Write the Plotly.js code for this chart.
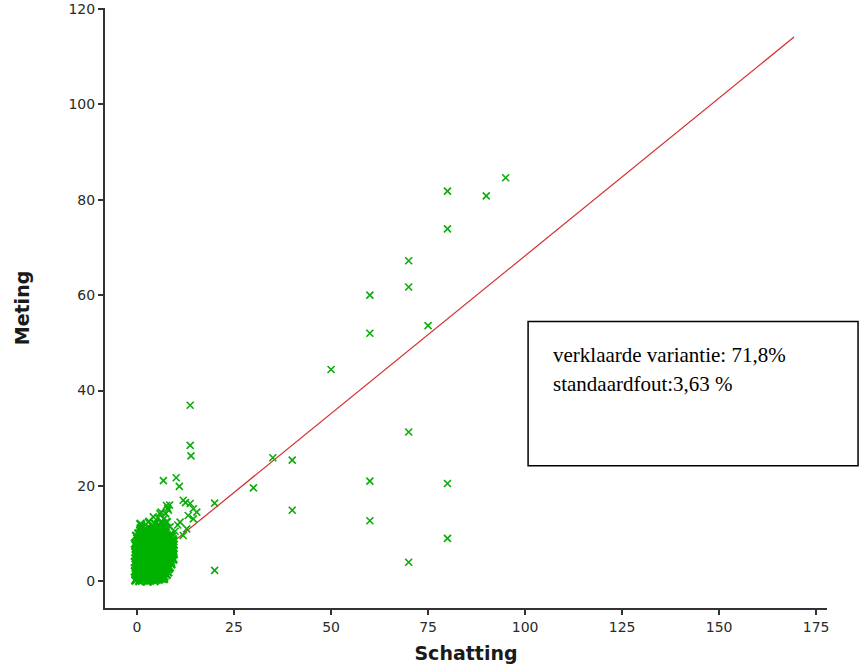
<!DOCTYPE html>
<html>
<head>
<meta charset="utf-8">
<script src="https://cdn.plot.ly/plotly-3.0.1.min.js"></script>
<style>html,body{margin:0;padding:0;background:#fff;}#chart{width:861px;height:667px;}</style>
</head>
<body>
<div id="chart"></div>
<script>
// Dense core of points near the origin: Schatting (estimate)
const kernSchatting = [
  -0.4,0.6,1.5,2.6,3.4,4.5,5.6,6.4,
  -0.2,0.8,1.9,2.9,4.0,5.0,6.0,6.9,
  0.1,0.9,2.1,3.0,3.9,5.1,6.0,7.0,7.6,
  -0.3,0.3,1.3,2.5,3.6,4.4,5.6,6.4,7.2,8.0,
  -0.5,0.5,1.6,2.4,3.5,4.6,5.4,6.5,7.4,8.1,
  0.2,1.2,2.3,3.3,4.3,5.2,6.3,7.3,8.4,
  0.0,1.1,1.9,3.0,4.1,4.9,6.0,7.1,7.9,8.8,
  -0.3,0.7,1.8,2.7,3.8,4.7,5.8,6.7,7.8,8.7,
  -0.5,0.4,1.5,2.6,3.4,4.5,5.6,6.4,7.5,8.6,9.2,
  0.2,1.2,2.3,3.3,4.3,5.3,6.3,7.3,8.3,9.3,
  0.1,0.9,2.0,3.1,4.0,5.0,5.9,7.0,8.1,9.0,
  -0.3,0.7,1.7,2.8,3.7,4.7,5.7,6.7,7.7,8.7,9.4,
  -0.4,0.6,1.5,2.5,3.6,4.4,5.5,6.6,7.4,8.5,9.3,
  0.2,1.2,2.3,3.2,4.3,5.2,6.2,7.2,8.2,9.2,
  0.0,1.0,2.1,2.9,4.0,5.1,6.0,6.9,8.0,8.9,
  -0.3,0.7,1.7,2.8,3.7,4.7,5.7,6.7,7.8,8.7,9.4,
  -0.5,0.5,1.4,2.6,3.5,4.5,5.4,6.5,7.6,8.6,9.3,
  0.2,1.2,2.3,3.3,4.3,5.2,6.2,7.2,8.3,9.2,
  0.1,1.0,2.0,3.1,3.9,5.0,6.1,7.0,8.0,8.9,
  -0.2,0.7,1.7,2.8,3.7,4.7,5.7,6.8,7.7,8.5,
  0.4,1.5,2.5,3.6,4.4,5.5,6.5,7.4,
  0.9,2.2,3.3,4.2,5.3,6.3,7.1,
  1.0,2.0,3.0,4.1,5.0,6.0,6.9,
  0.9,4.6,5.6,6.5,7.6
];
// Dense core: Meting (measured)
const kernMeting = [
  0.2,0.1,0.3,0.0,0.2,0.1,0.4,0.6,
  0.5,0.6,0.4,0.5,0.6,0.4,0.7,0.5,
  1.1,0.9,1.2,0.8,1.1,0.9,1.2,1.0,1.4,
  1.5,1.6,1.4,1.6,1.5,1.4,1.6,1.5,1.7,1.9,
  2.1,1.9,2.2,1.8,2.1,2.0,2.3,1.9,2.2,2.6,
  2.5,2.6,2.4,2.6,2.5,2.4,2.6,2.5,2.9,
  3.1,2.9,3.2,3.0,2.8,3.1,3.0,2.9,3.2,3.6,
  3.5,3.4,3.6,3.5,3.4,3.6,3.5,3.4,3.6,3.9,
  4.0,4.2,3.9,4.1,4.0,3.8,4.2,4.0,4.1,4.3,4.8,
  4.5,4.6,4.4,4.5,4.6,4.4,4.5,4.6,4.5,4.6,
  5.0,5.2,4.9,5.1,5.0,4.8,5.1,5.0,5.2,5.4,
  5.5,5.4,5.6,5.5,5.4,5.6,5.5,5.4,5.6,5.5,5.7,
  6.1,5.9,6.0,6.2,5.8,6.1,6.0,5.9,6.2,6.0,6.3,
  6.5,6.6,6.4,6.5,6.6,6.4,6.5,6.6,6.5,6.6,
  7.0,7.1,6.9,7.2,7.0,6.8,7.1,7.0,6.9,7.2,
  7.5,7.4,7.6,7.5,7.4,7.6,7.5,7.4,7.6,7.5,7.7,
  7.9,8.1,8.0,7.8,8.2,8.0,8.1,7.9,8.2,8.0,8.4,
  8.5,8.6,8.4,8.5,8.6,8.4,8.5,8.6,8.5,8.8,
  9.0,8.9,9.2,9.0,8.8,9.1,9.0,9.2,9.1,9.3,
  9.5,9.4,9.6,9.5,9.4,9.6,9.5,9.4,9.6,9.7,
  10.0,10.2,9.9,10.1,10.0,10.2,9.9,10.1,
  10.6,10.4,10.6,10.5,10.4,10.6,10.7,
  11.1,10.9,11.2,11.0,11.1,10.8,11.2,
  12.0,12.1,11.9,12.2,12.4
];
// Scattered points: Schatting
const losSchatting = [
  6.9,7.4,7.9,8.4,6.2,5.4,3.1,1.2,
  7.6,11.9,13.7,14.5,13.2,11.1,11.9,5.9,4.2,2.9,1.2,0.8,14.5,15.4,8.5,8.1,12.5,10.5,9.8,12.8,
  13.7,13.7,13.9,6.8,10.1,10.9,20,20,35,40,30,40,50,60,60,60,60,70,70,70,70,75,80,80,80,80,90,95
];
// Scattered points: Meting
const losMeting = [
  13.1,14.2,15.3,16.0,14.5,13.3,12.6,11.8,
  15.9,17.0,16.3,15.2,13.8,12.4,9.6,14.2,13.5,12.4,11.4,10.3,13.1,14.5,11.4,14.9,16.5,11.8,10.5,11.0,
  36.9,28.5,26.3,21.1,21.7,19.9,16.4,2.3,25.9,25.4,19.6,14.9,44.4,60.0,52.0,21.0,12.7,67.2,61.7,31.3,4.0,53.6,81.8,73.9,20.5,9.0,80.8,84.6
];
// Regression line end points
const lijnX = [8.5, 169.3];
const lijnY = [7.7, 114.1];

const xTicks = [0, 25, 50, 75, 100, 125, 150, 175];
const yTicks = [0, 20, 40, 60, 80, 100, 120];
const xTitle = "Schatting";
const yTitle = "Meting";
const infoLines = ["verklaarde variantie: 71,8%", "standaardfout:3,63 %"];

const green = 'rgb(10,172,10)';
const traces = [
  {x: lijnX, y: lijnY, type: 'scatter', mode: 'lines',
   line: {color: 'rgb(215,45,45)', width: 1.2}, hoverinfo: 'skip'},
  {x: kernSchatting, y: kernMeting, type: 'scatter', mode: 'markers',
   marker: {symbol: 'x-thin-open', size: 8, color: 'rgb(0,178,0)',
            line: {color: 'rgb(0,178,0)', width: 2.4}}},
  {x: losSchatting, y: losMeting, type: 'scatter', mode: 'markers',
   marker: {symbol: 'x-thin-open', size: 7, color: green,
            line: {color: green, width: 1.6}}}
];

const tickFont = {family: 'DejaVu Sans, sans-serif', size: 14, color: '#2a2a2a'};
const titleFont = {family: 'DejaVu Sans, sans-serif', size: 19, color: '#1a1a1a', weight: 'bold'};

const layout = {
  width: 861, height: 667,
  margin: {l: 105, r: 34, t: 8, b: 59},
  paper_bgcolor: '#fff', plot_bgcolor: '#fff',
  showlegend: false,
  xaxis: {
    range: [-8.25, 177.8], tickvals: xTicks, ticktext: xTicks.map(String),
    showgrid: false, zeroline: false, showline: true, linecolor: '#333', linewidth: 2,
    ticks: 'outside', ticklen: 5, tickwidth: 2, tickcolor: '#333',
    tickfont: tickFont,
    title: {text: xTitle, font: titleFont, standoff: 13}
  },
  yaxis: {
    range: [-5.6, 120.2], tickvals: yTicks, ticktext: yTicks.map(String),
    showgrid: false, zeroline: false, showline: true, linecolor: '#333', linewidth: 2,
    ticks: 'outside', ticklen: 5, tickwidth: 2, tickcolor: '#333',
    tickfont: tickFont,
    title: {text: yTitle, font: titleFont, standoff: 34}
  },
  shapes: [
    {type: 'rect', xref: 'paper', yref: 'paper', x0: 0.586, x1: 1.043, y0: 0.237, y1: 0.4775,
     line: {color: '#000', width: 1.5}, fillcolor: 'rgba(255,255,255,1)', layer: 'above'}
  ],
  annotations: [
    {xref: 'paper', yref: 'paper', x: 0.618, y: 0.4224, xanchor: 'left', yanchor: 'middle',
     text: infoLines[0], showarrow: false,
     font: {family: 'Liberation Serif, Times New Roman, serif', size: 21, color: '#000'}},
    {xref: 'paper', yref: 'paper', x: 0.618, y: 0.374, xanchor: 'left', yanchor: 'middle',
     text: infoLines[1], showarrow: false,
     font: {family: 'Liberation Serif, Times New Roman, serif', size: 21, color: '#000'}}
  ]
};

Plotly.newPlot('chart', traces, layout, {displayModeBar: false, staticPlot: true});
</script>
</body>
</html>
